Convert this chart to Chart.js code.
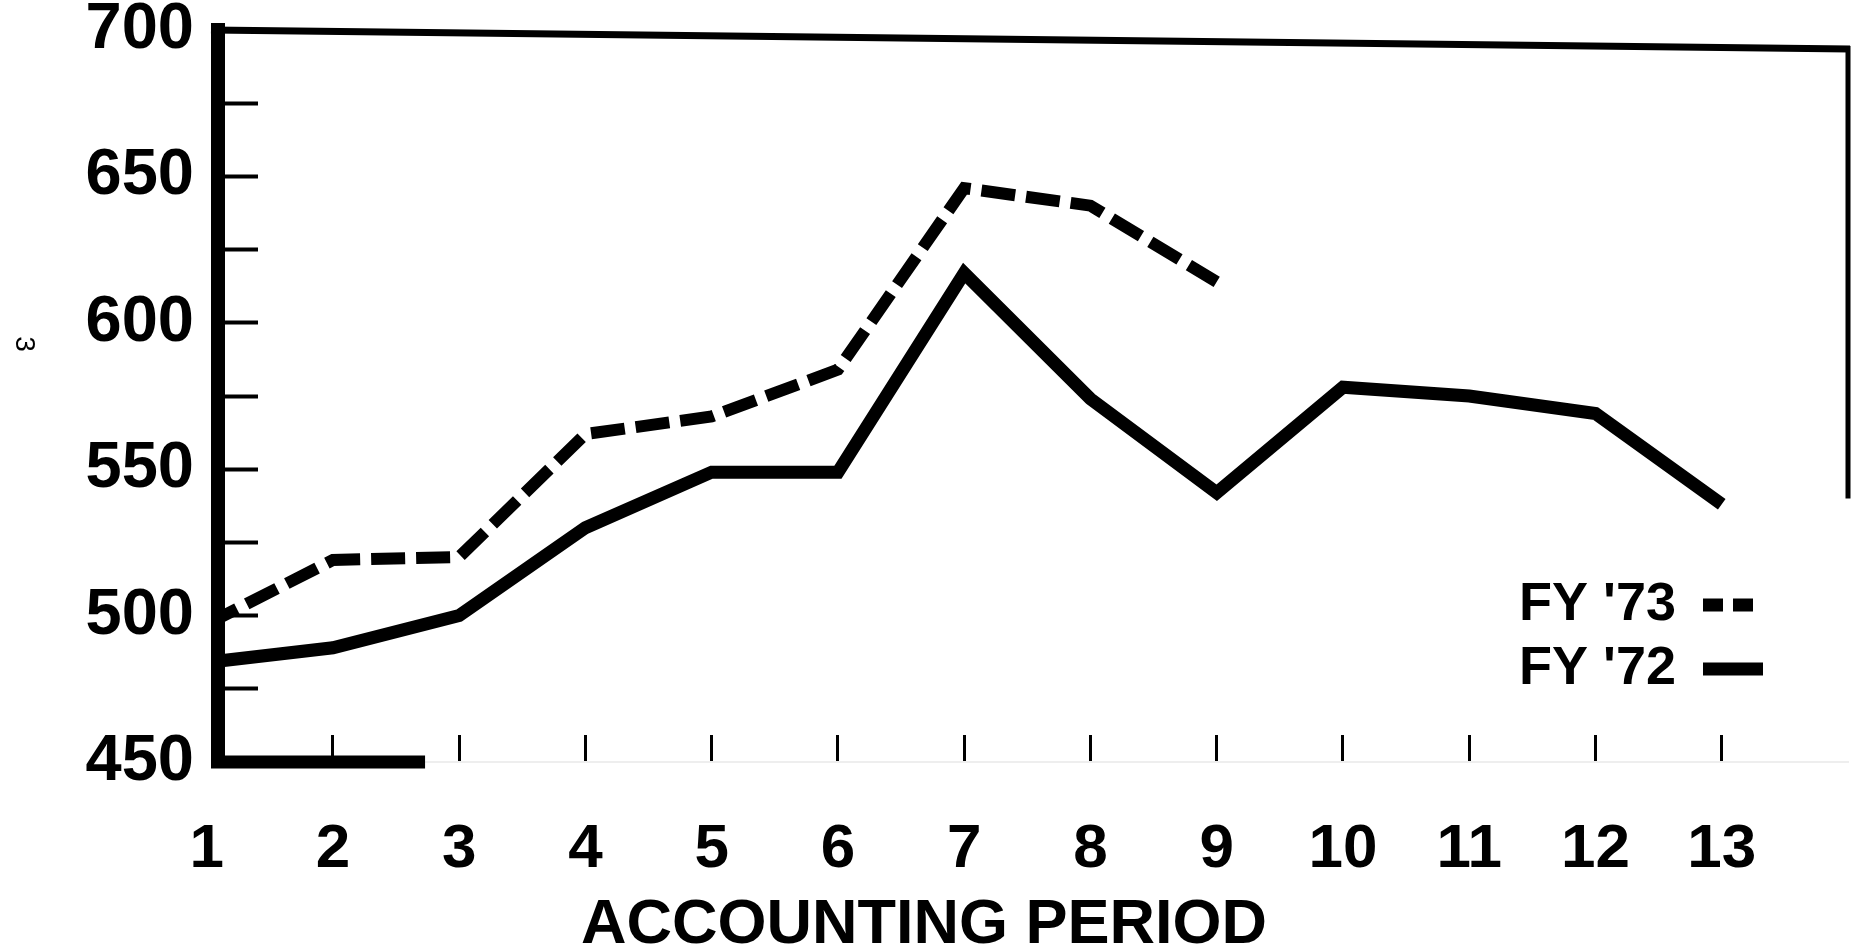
<!DOCTYPE html>
<html>
<head>
<meta charset="utf-8">
<style>
  html, body { margin: 0; padding: 0; background: #ffffff; overflow: hidden; }
  #wrap { position: relative; width: 1852px; height: 951px; }
  canvas { display: block; }
</style>
<script src="https://cdn.jsdelivr.net/npm/chart.js@4.4.1/dist/chart.umd.min.js"></script>
</head>
<body>
<div id="wrap"><canvas id="c" width="1852" height="951"></canvas></div>
<script>
// ---- data ----
const periods = [1, 2, 3, 4, 5, 6, 7, 8, 9, 10, 11, 12, 13];
const fy72 = [484, 489, 500, 530, 549, 549, 617, 574, 542, 578, 575, 569, 538];
const fy73 = [497, 519, 520, 562, 568, 584, 646, 640, 614];
const yTickLabels = [450, 500, 550, 600, 650, 700];
const seriesLabels = ["FY '73", "FY '72"];
const xAxisTitle = "ACCOUNTING PERIOD";
const pageMark = "3";

const FONT = "'Liberation Sans', Arial, Helvetica, sans-serif";

// frame / decoration plugin (drawn via the chart's scales)
const framePlugin = {
  id: 'frame',
  beforeDatasetsDraw(chart, args, o) {
    const {ctx, chartArea: a, scales: {x, y}} = chart;
    ctx.save();
    ctx.strokeStyle = '#000';
    ctx.lineCap = 'butt';
    // top edge
    ctx.lineWidth = o.topWidth;
    ctx.beginPath();
    ctx.moveTo(a.left - 7, y.getPixelForValue(y.max));
    ctx.lineTo(a.right + 2, y.getPixelForValue(o.topRightValue));
    ctx.stroke();
    // right edge (partial)
    ctx.lineWidth = o.rightWidth;
    ctx.beginPath();
    ctx.moveTo(a.right, y.getPixelForValue(o.topRightValue) - 3);
    ctx.lineTo(a.right, y.getPixelForValue(o.rightBottomValue));
    ctx.stroke();
    // heavy part of the base line
    ctx.lineWidth = o.baseWidth;
    ctx.beginPath();
    ctx.moveTo(a.left - 7, a.bottom);
    ctx.lineTo(x.getPixelForValue(o.baseSolidTo), a.bottom);
    ctx.stroke();
    ctx.restore();
  },
  afterDraw(chart, args, o) {
    const {ctx} = chart;
    ctx.save();
    ctx.translate(o.markX, o.markY);
    ctx.rotate(Math.PI / 2);
    ctx.fillStyle = '#000';
    ctx.font = '28px ' + FONT;
    ctx.textAlign = 'center';
    ctx.textBaseline = 'middle';
    ctx.fillText(pageMark, 0, 0);
    ctx.restore();
  }
};

// place the legend inside the plot area (right side)
const legendPlace = {
  id: 'legendPlace',
  afterLayout(chart, args, o) {
    const lg = chart.legend;
    if (!lg) return;
    const pad = lg.options.labels.padding;
    const w = lg.width;
    lg.left = o.right + pad - w;
    lg.right = lg.left + w;
    lg.top = o.top - pad;
    lg.height = 300;
    lg.bottom = lg.top + 300;
  }
};

const TITLE_LH = 0.8;
const TITLE_SIZE = 63;
const X_AXIS_H = 951 - TITLE_SIZE * TITLE_LH - 762;

new Chart(document.getElementById('c'), {
  type: 'line',
  data: {
    datasets: [
      {
        label: seriesLabels[0],
        data: fy73.map((v, i) => ({x: periods[i], y: v})),
        borderColor: '#000',
        backgroundColor: '#000',
        borderWidth: 12,
        borderDash: [34, 11],
        borderCapStyle: 'butt',
        borderJoinStyle: 'miter',
        pointRadius: 0,
        tension: 0,
        fill: false,
        legendDash: [20, 10]
      },
      {
        label: seriesLabels[1],
        data: fy72.map((v, i) => ({x: periods[i], y: v})),
        borderColor: '#000',
        backgroundColor: '#000',
        borderWidth: 13,
        borderCapStyle: 'butt',
        borderJoinStyle: 'miter',
        pointRadius: 0,
        tension: 0,
        fill: false,
        legendDash: []
      }
    ]
  },
  options: {
    responsive: false,
    devicePixelRatio: 1,
    animation: false,
    events: [],
    layout: { autoPadding: false, padding: { top: 30, right: 4, left: 0, bottom: 0 } },
    scales: {
      x: {
        type: 'linear',
        min: 1.09,
        max: 14,
        afterFit(s) { s.height = X_AXIS_H; s.paddingLeft = 0; s.paddingRight = 0; },
        afterBuildTicks(s) { s.ticks = periods.map(v => ({value: v})); },
        border: { display: true, color: '#eeeeee', width: 2, dash: [2, 22] },
        grid: {
          drawOnChartArea: false,
          drawTicks: true,
          tickLength: -27,
          tickWidth: 3,
          tickColor: (c) => (c.tick && c.tick.value === 1) ? 'rgba(0,0,0,0)' : '#000'
        },
        ticks: {
          autoSkip: false,
          maxRotation: 0,
          padding: 84,
          color: '#000',
          font: { family: FONT, size: 62, weight: 'bold', lineHeight: 1 },
          callback: (v) => periods.includes(v) ? String(v) : ''
        }
      },
      y: {
        min: 450,
        max: 700,
        afterFit(s) { s.width = 218; s.paddingTop = 0; s.paddingBottom = 0; },
        border: { display: true, color: '#000', width: 14 },
        grid: {
          drawOnChartArea: false,
          drawTicks: true,
          tickLength: -40,
          tickWidth: 4,
          tickColor: '#000'
        },
        ticks: {
          stepSize: 25,
          padding: 64,
          color: '#000',
          font: { family: FONT, size: 65, weight: 'bold', lineHeight: 1 },
          callback: (v) => yTickLabels.includes(v) ? String(v) : ''
        }
      }
    },
    plugins: {
      tooltip: { enabled: false },
      title: {
        display: true,
        position: 'bottom',
        text: xAxisTitle,
        color: '#000',
        padding: 0,
        font: { family: FONT, size: TITLE_SIZE, weight: 'bold', lineHeight: TITLE_LH }
      },
      legend: {
        display: true,
        position: 'chartArea',
        align: 'start',
        rtl: true,
        labels: {
          usePointStyle: true,
          pointStyle: 'line',
          pointStyleWidth: 60,
          padding: 10,
          color: '#000',
          font: { family: FONT, size: 54, weight: 'bold' },
          generateLabels: (chart) => chart.data.datasets.map((ds, i) => ({
            text: ds.label,
            fillStyle: ds.borderColor,
            strokeStyle: ds.borderColor,
            fontColor: '#000',
            lineWidth: 13,
            lineDash: ds.legendDash,
            lineCap: 'butt',
            pointStyle: 'line',
            hidden: false,
            datasetIndex: i
          }))
        }
      },
      legendPlace: { right: 1763, top: 578 },
      frame: {
        topWidth: 7,
        rightWidth: 5,
        baseWidth: 13,
        topRightValue: 693.5,
        rightBottomValue: 540,
        baseSolidTo: 2.73,
        markX: 24,
        markY: 344
      }
    }
  },
  plugins: [framePlugin, legendPlace]
});
</script>
</body>
</html>
